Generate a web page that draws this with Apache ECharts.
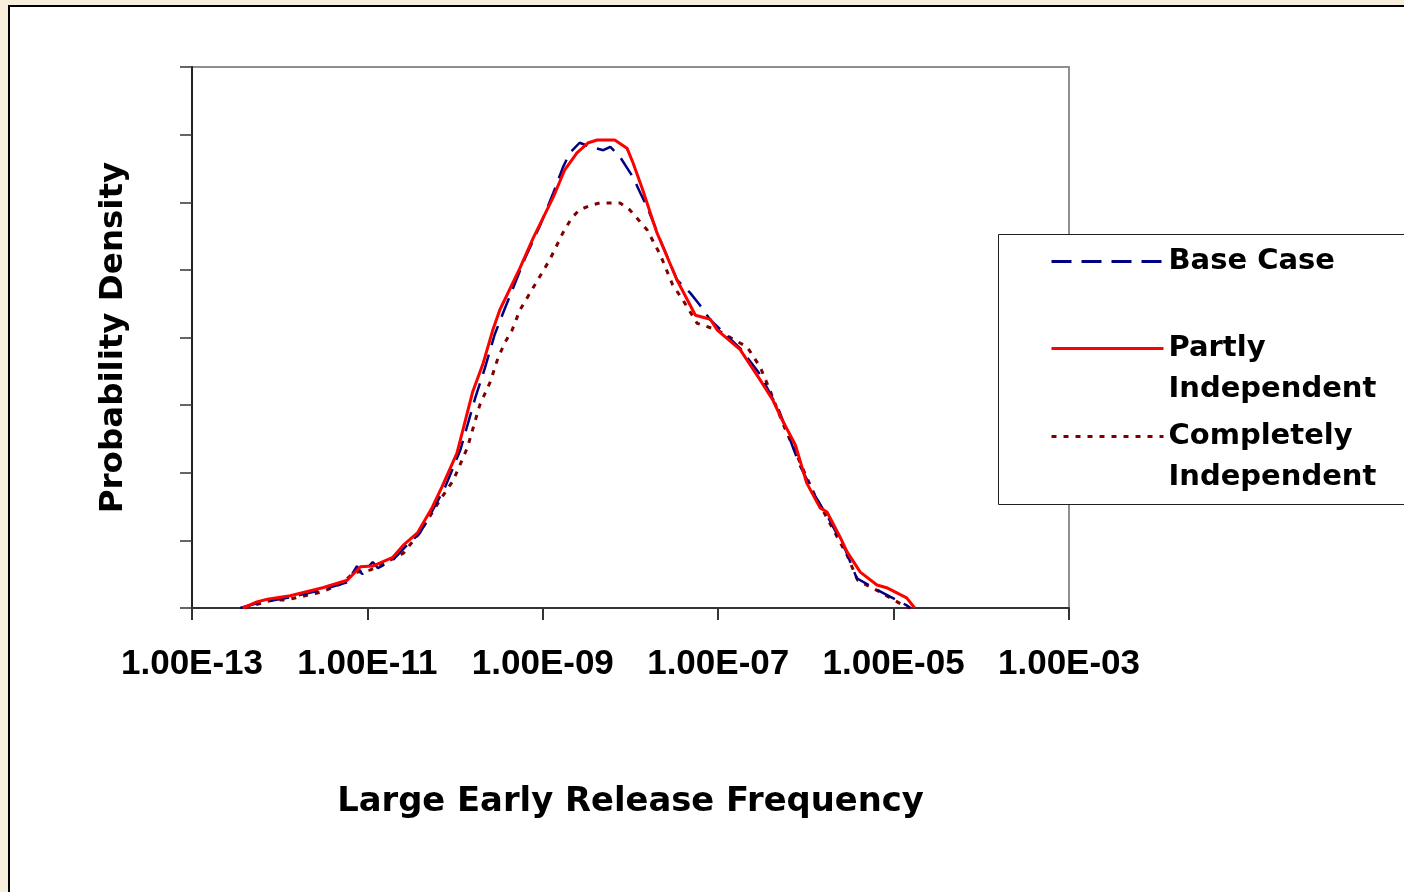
<!DOCTYPE html>
<html>
<head>
<meta charset="utf-8">
<script src="https://cdn.jsdelivr.net/npm/echarts@6/dist/echarts.min.js"></script>
<style>
html,body{margin:0;padding:0;background:#F7EEDC;}
#chart{width:1404px;height:892px;}
</style>
</head>
<body>
<div id="chart"></div>
<script>
// Tick values and labels on the x axis (log scale, every 2 decades)
var xTickValues = [1e-13, 1e-11, 1e-9, 1e-7, 1e-5, 1e-3];
var xTickLabels = ['1.00E-13','1.00E-11','1.00E-09','1.00E-07','1.00E-05','1.00E-03'];

// Base Case
var baseX = [3.55e-13,5.50e-13,1.32e-12,3.09e-12,5.89e-12,7.59e-12,8.71e-12,1.15e-11,1.32e-11,1.95e-11,2.69e-11,3.98e-11,7.59e-11,1.15e-10,1.70e-10,2.19e-10,2.82e-10,3.72e-10,6.31e-10,9.33e-10,1.32e-9,1.70e-9,2.04e-9,2.63e-9,3.47e-9,4.90e-9,5.89e-9,7.59e-9,1.07e-8,1.29e-8,1.55e-8,2.19e-8,3.39e-8,4.79e-8,6.17e-8,8.13e-8,1.78e-7,3.02e-7,5.01e-7,8.51e-7,1.26e-6,1.86e-6,2.82e-6,3.80e-6,6.46e-6,1.41e-5,1.55e-5];
var baseY = [0,0.07,0.16,0.27,0.38,0.62,0.50,0.68,0.59,0.71,0.90,1.11,1.77,2.34,3.11,3.55,4.04,4.44,5.18,5.66,6.14,6.52,6.73,6.88,6.82,6.77,6.82,6.67,6.37,6.14,5.93,5.44,4.85,4.66,4.48,4.26,3.84,3.45,2.90,2.11,1.67,1.30,0.86,0.44,0.27,0.04,0];

// Partly Independent
var partlyX = [3.80e-13,5.50e-13,7.24e-13,1.32e-12,3.09e-12,5.89e-12,8.32e-12,1.15e-11,1.95e-11,2.57e-11,3.72e-11,5.50e-11,7.08e-11,1.05e-10,1.58e-10,2.09e-10,2.69e-10,3.24e-10,5.50e-10,7.76e-10,1.32e-9,1.78e-9,2.45e-9,3.31e-9,4.17e-9,6.61e-9,9.12e-9,1.07e-8,1.38e-8,2.00e-8,3.39e-8,5.50e-8,8.13e-8,9.77e-8,1.78e-7,3.02e-7,4.17e-7,5.37e-7,7.59e-7,1.02e-6,1.45e-6,1.74e-6,2.45e-6,2.95e-6,4.17e-6,6.46e-6,8.32e-6,1.41e-5,1.74e-5];
var partlyY = [0,0.09,0.13,0.18,0.30,0.41,0.61,0.62,0.75,0.93,1.11,1.49,1.79,2.29,3.19,3.62,4.11,4.41,5.03,5.47,6.08,6.48,6.73,6.88,6.92,6.92,6.80,6.58,6.18,5.55,4.85,4.33,4.27,4.11,3.82,3.37,3.08,2.78,2.41,1.85,1.48,1.42,1.05,0.83,0.53,0.34,0.30,0.15,0];

// Completely Independent
var completeX = [3.98e-13,8.32e-13,1.20e-12,3.09e-12,5.25e-12,6.92e-12,1.07e-11,1.66e-11,2.57e-11,3.98e-11,6.76e-11,9.55e-11,1.38e-10,1.91e-10,2.51e-10,3.09e-10,3.72e-10,4.47e-10,5.50e-10,8.13e-10,1.20e-9,1.70e-9,2.14e-9,2.63e-9,3.63e-9,4.47e-9,7.59e-9,9.77e-9,1.55e-8,2.19e-8,3.02e-8,3.98e-8,5.75e-8,9.77e-8,1.55e-7,2.14e-7,3.02e-7,3.89e-7,5.37e-7,8.51e-7,1.26e-6,1.86e-6,2.95e-6,3.89e-6,6.92e-6,1.41e-5,1.55e-5];
var completeY = [0,0.12,0.12,0.24,0.37,0.52,0.56,0.68,0.81,1.12,1.60,1.89,2.37,3.00,3.34,3.70,3.93,4.11,4.41,4.78,5.15,5.55,5.77,5.89,5.96,5.99,5.99,5.89,5.59,5.22,4.78,4.55,4.21,4.11,3.96,3.86,3.56,3.22,2.75,2.16,1.67,1.26,0.78,0.41,0.24,0.01,0];

var seriesNames = ['Base Case','Partly Independent','Completely Independent'];
var legendText = {
  'Base Case': 'Base Case',
  'Partly Independent': '\nPartly\nIndependent',
  'Completely Independent': '\nCompletely\nIndependent'
};

function pairs(xs, ys){ return xs.map(function(x,i){ return [x, ys[i]]; }); }

var chart = echarts.init(document.getElementById('chart'), null, {renderer:'canvas'});

var legendStyle = {
  fontFamily: 'DejaVu Sans', fontWeight: 'bold', fontSize: 29, lineHeight: 41, color: '#000'
};
function makeLegend(name, top){
  return {
    data: [name], left: 1050, top: top, padding: 0, orient: 'vertical',
    itemWidth: 112, itemHeight: 14, selectedMode: false, z: 20,
    itemStyle: { opacity: 0 },
    lineStyle: { width: 3 },
    formatter: function(n){ return legendText[n]; },
    textStyle: legendStyle
  };
}

var option = {
  backgroundColor: '#F7EEDC',
  animation: false,
  graphic: { elements: [
    { type: 'rect', z: -10, shape: { x: 9, y: 6, width: 1420, height: 910 },
      style: { fill: '#ffffff', stroke: '#000000', lineWidth: 2 } },
    { type: 'rect', z: 10, shape: { x: 998.5, y: 234.5, width: 430, height: 270 },
      style: { fill: '#ffffff', stroke: '#202020', lineWidth: 1 } }
  ]},
  grid: {
    left: 192, top: 67, right: 335, bottom: 284,
    show: true, backgroundColor: '#ffffff', borderColor: '#8f8f8f', borderWidth: 2,
    containLabel: false, outerBoundsMode: 'none'
  },
  legend: [
    makeLegend(seriesNames[0], 241),
    makeLegend(seriesNames[1], 287),
    makeLegend(seriesNames[2], 375)
  ],
  xAxis: {
    type: 'log', logBase: 10, min: 1e-13, max: 1e-3, splitNumber: 10,
    name: 'Large Early Release Frequency', nameLocation: 'middle', nameGap: 177,
    nameTextStyle: { fontFamily: 'DejaVu Sans', fontWeight: 'bold', fontSize: 33.8, color: '#000' },
    axisLine: { show: true, lineStyle: { color: '#333', width: 2 } },
    axisTick: { show: true, inside: false, length: 12, customValues: xTickValues, lineStyle: { color: '#333', width: 2 } },
    splitLine: { show: false },
    minorTick: { show: false },
    axisLabel: {
      customValues: xTickValues, margin: 39, color: '#000',
      fontFamily: 'Liberation Sans', fontWeight: 'bold', fontSize: 35,
      formatter: function(v){
        var i = -1, best = Infinity;
        for (var k = 0; k < xTickValues.length; k++) {
          var d = Math.abs(Math.log(v) - Math.log(xTickValues[k]));
          if (d < best) { best = d; i = k; }
        }
        return best < 0.01 ? xTickLabels[i] : '';
      }
    }
  },
  yAxis: {
    type: 'value', min: 0, max: 8, interval: 1,
    name: 'Probability Density', nameLocation: 'middle', nameGap: 62, nameRotate: 90,
    nameTextStyle: { fontFamily: 'DejaVu Sans', fontWeight: 'bold', fontSize: 32.5, color: '#000' },
    axisLine: { show: true, lineStyle: { color: '#222', width: 2 } },
    axisTick: { show: true, inside: false, length: 12, lineStyle: { color: '#333', width: 1.5 } },
    axisLabel: { show: false },
    splitLine: { show: false }
  },
  series: [
    { name: seriesNames[0], type: 'line', data: pairs(baseX, baseY), showSymbol: false, symbol: 'none', z: 3,
      lineStyle: { color: '#000080', width: 2.5, type: [20, 10] }, itemStyle: { color: '#000080' } },
    { name: seriesNames[1], type: 'line', data: pairs(partlyX, partlyY), showSymbol: false, symbol: 'none', z: 4,
      lineStyle: { color: '#FF0000', width: 3, type: 'solid' }, itemStyle: { color: '#FF0000' } },
    { name: seriesNames[2], type: 'line', data: pairs(completeX, completeY), showSymbol: false, symbol: 'none', z: 2,
      lineStyle: { color: '#800000', width: 3, type: [5, 7] }, itemStyle: { color: '#800000' } }
  ]
};
chart.setOption(option);
</script>
</body>
</html>
